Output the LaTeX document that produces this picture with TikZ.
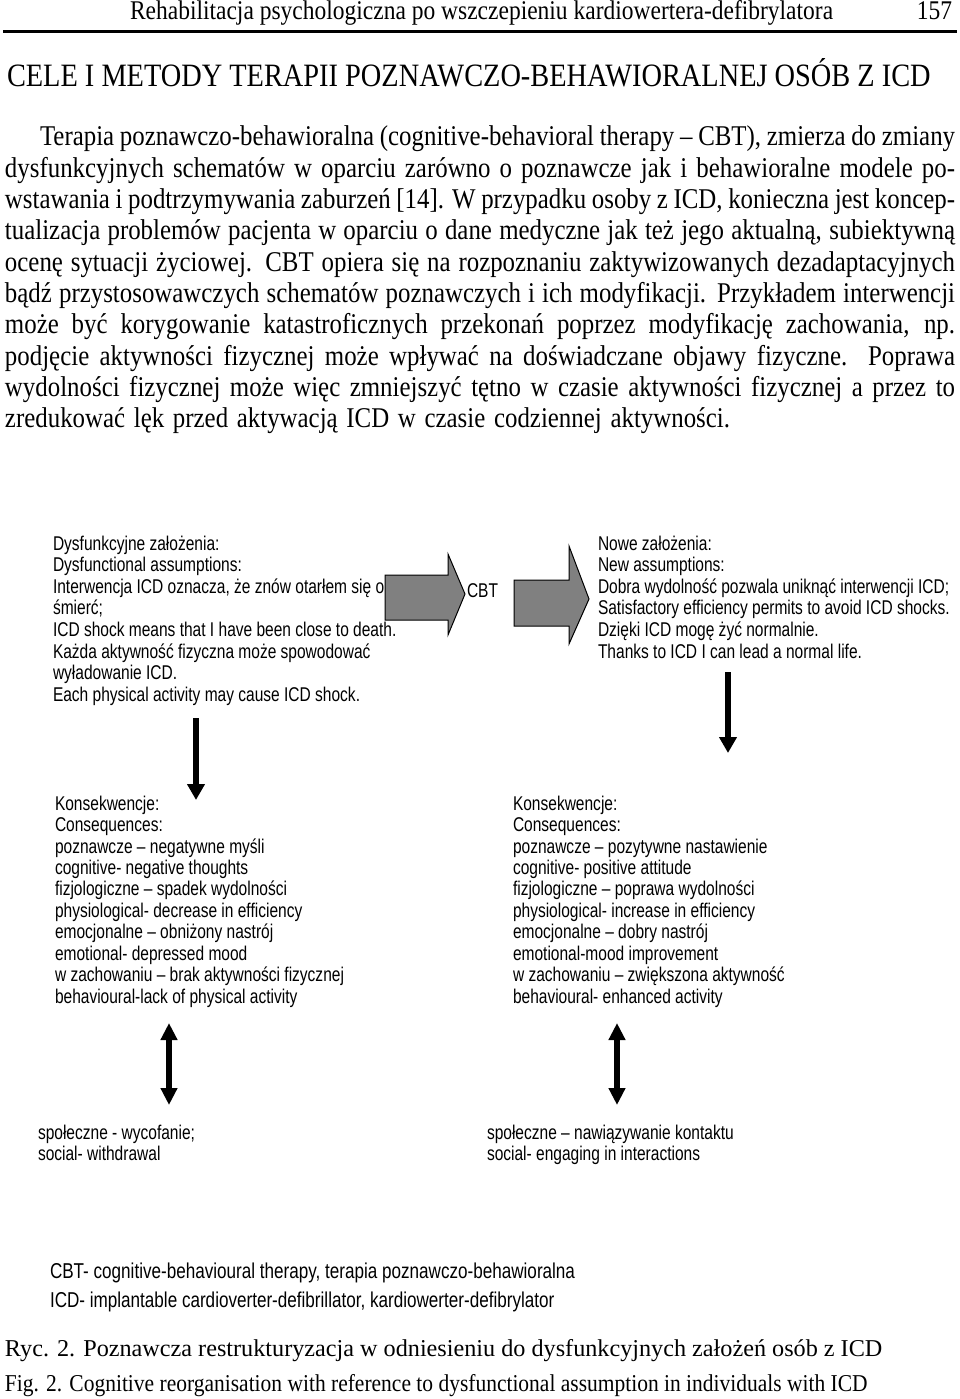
\documentclass[tikz,border=0pt]{standalone}
\usepackage{fontspec}
\setmainfont{Liberation Serif}
\newfontfamily\bodyf{Liberation Serif}[FakeStretch=0.87]
\newfontfamily\diagf{Liberation Sans}[FakeStretch=0.78]
\newfontfamily\legf{Liberation Sans}[FakeStretch=0.795]
\newfontfamily\capf{Liberation Serif}
\newfontfamily\capfb{Liberation Serif}[FakeStretch=0.888]
\usetikzlibrary{arrows.meta}
\newcommand{\jl}[2]{\makebox[#1pt][s]{#2}}
\tikzset{
  tl/.style={inner sep=0pt, outer sep=0pt, anchor=base west},
  bodytext/.style={tl, font=\bodyf\fontsize{28.6}{31}\selectfont},
  headtext/.style={tl, font=\bodyf\fontsize{27}{30}\selectfont},
  titletext/.style={tl, font=\bodyf\fontsize{32.6}{36}\selectfont},
  dg/.style={tl, font=\diagf\fontsize{19.9}{21.6}\selectfont, text=black},
  lg/.style={tl, font=\legf\fontsize{21.5}{24}\selectfont, text=black},
  capt/.style={tl, font=\capf\fontsize{24.2}{28}\selectfont},
  captb/.style={tl, font=\capfb\fontsize{24.2}{28}\selectfont},
  blockarrow/.style={draw=black, line width=1pt, fill=gray, line join=miter},
  thickarrow/.style={line width=5.5pt, -{Triangle[width=17pt,length=16pt]}},
  dblarrow/.style={line width=5.5pt, {Triangle[width=16pt,length=17pt]}-{Triangle[width=16pt,length=17pt]}},
}
\begin{document}
\begin{tikzpicture}[x=1pt,y=-1pt]
\fill[white] (0,0) rectangle (960,1399);
\useasboundingbox (0,0) rectangle (960,1399);

% running head
\node[headtext] (hd) at (130,20) {Rehabilitacja psychologiczna po wszczepieniu kardiowertera-defibrylatora};
\node[headtext, anchor=base east] (pg) at (952,20) {157};
\draw[line width=3pt] (3,32) -- (957,32);

% section title
\node[titletext] (title) at (7,87) {CELE I METODY TERAPII POZNAWCZO-BEHAWIORALNEJ OSÓB Z ICD};

% body paragraph
\node[bodytext] (b1) at (40,146) {\jl{915}{Terapia poznawczo-behawioralna (cognitive-behavioral therapy – CBT), zmierza do zmiany}};
\node[bodytext] (b2) at (5,177.3) {\jl{950}{dysfunkcyjnych schematów w oparciu zarówno o poznawcze jak i behawioralne modele po-}};
\node[bodytext] (b3) at (5,208.6) {\jl{950}{wstawania i podtrzymywania zaburzeń [14]. W przypadku osoby z ICD, konieczna jest koncep-}};
\node[bodytext] (b4) at (5,239.9) {\jl{950}{tualizacja problemów pacjenta w oparciu o dane medyczne jak też jego aktualną, subiektywną}};
\node[bodytext] (b5) at (5,271.2) {\jl{950}{ocenę sytuacji życiowej. CBT opiera się na rozpoznaniu zaktywizowanych dezadaptacyjnych}};
\node[bodytext] (b6) at (5,302.5) {\jl{950}{bądź przystosowawczych schematów poznawczych i ich modyfikacji. Przykładem interwencji}};
\node[bodytext] (b7) at (5,333.8) {\jl{950}{może być korygowanie katastroficznych przekonań poprzez modyfikację zachowania, np.}};
\node[bodytext] (b8) at (5,365.1) {\jl{950}{podjęcie aktywności fizycznej może wpływać na doświadczane objawy fizyczne. Poprawa}};
\node[bodytext] (b9) at (5,396.4) {\jl{950}{wydolności fizycznej może więc zmniejszyć tętno w czasie aktywności fizycznej a przez to}};
\node[bodytext] (b10) at (5,427.7) {\jl{725}{zredukować lęk przed aktywacją ICD w czasie codziennej aktywności.}};

% left block: dysfunctional assumptions
\node[dg] (d1) at (53,550) {Dysfunkcyjne założenia:};
\node[dg] (d2) at (53,571.6) {Dysfunctional assumptions:};
\node[dg] (d3) at (53,593.2) {Interwencja ICD oznacza, że znów otarłem się o};
\node[dg] (d4) at (53,614.8) {śmierć;};
\node[dg] (d5) at (53,636.4) {ICD shock means that I have been close to death.};
\node[dg] (d6) at (53,658) {Każda aktywność fizyczna może spowodować};
\node[dg] (d7) at (53,679.6) {wyładowanie ICD.};
\node[dg] (d8) at (53,701.2) {Each physical activity may cause ICD shock.};

% CBT block arrows
\draw[blockarrow] (385,575) -- (448,575) -- (448,554) -- (465,594) -- (448,635) -- (448,620) -- (385,620) -- cycle;
\node[dg] (cbt) at (467,597) {CBT};
\draw[blockarrow] (514,580) -- (569,580) -- (569,546) -- (589,599) -- (569,644) -- (569,626) -- (514,626) -- cycle;

% right block: new assumptions
\node[dg] (n1) at (598,550) {Nowe założenia:};
\node[dg] (n2) at (598,571.6) {New assumptions:};
\node[dg] (n3) at (598,593.2) {Dobra wydolność pozwala uniknąć interwencji ICD;};
\node[dg] (n4) at (598,614.8) {Satisfactory efficiency permits to avoid ICD shocks.};
\node[dg] (n5) at (598,636.4) {Dzięki ICD mogę żyć normalnie.};
\node[dg] (n6) at (598,658) {Thanks to ICD I can lead a normal life.};

% down arrows
\coordinate (la1) at (196,718);
\coordinate (la2) at (196,800);
\draw[thickarrow] (la1) -- (la2);
\coordinate (ra1) at (728,672);
\coordinate (ra2) at (728,753);
\draw[thickarrow] (ra1) -- (ra2);

% consequences left
\node[dg] (cl1) at (55,810) {Konsekwencje:};
\node[dg] (cl2) at (55,831.5) {Consequences:};
\node[dg] (cl3) at (55,853) {poznawcze – negatywne myśli};
\node[dg] (cl4) at (55,874.4) {cognitive- negative thoughts};
\node[dg] (cl5) at (55,895.8) {fizjologiczne – spadek wydolności};
\node[dg] (cl6) at (55,917.3) {physiological- decrease in efficiency};
\node[dg] (cl7) at (55,938.7) {emocjonalne – obniżony nastrój};
\node[dg] (cl8) at (55,960.2) {emotional- depressed mood};
\node[dg] (cl9) at (55,981.6) {w zachowaniu – brak aktywności fizycznej};
\node[dg] (cl10) at (55,1003) {behavioural-lack of physical activity};

% consequences right
\node[dg] (cr1) at (513,810) {Konsekwencje:};
\node[dg] (cr2) at (513,831.5) {Consequences:};
\node[dg] (cr3) at (513,853) {poznawcze – pozytywne nastawienie};
\node[dg] (cr4) at (513,874.4) {cognitive- positive attitude};
\node[dg] (cr5) at (513,895.8) {fizjologiczne – poprawa wydolności};
\node[dg] (cr6) at (513,917.3) {physiological- increase in efficiency};
\node[dg] (cr7) at (513,938.7) {emocjonalne – dobry nastrój};
\node[dg] (cr8) at (513,960.2) {emotional-mood improvement};
\node[dg] (cr9) at (513,981.6) {w zachowaniu – zwiększona aktywność};
\node[dg] (cr10) at (513,1003) {behavioural- enhanced activity};

% double arrows
\coordinate (ld1) at (169,1023);
\coordinate (ld2) at (169,1105);
\draw[dblarrow] (ld1) -- (ld2);
\coordinate (rd1) at (617,1023);
\coordinate (rd2) at (617,1105);
\draw[dblarrow] (rd1) -- (rd2);

% social
\node[dg] (sl1) at (38,1139) {społeczne - wycofanie;};
\node[dg] (sl2) at (38,1160) {social- withdrawal};
\node[dg] (sr1) at (487,1139) {społeczne – nawiązywanie kontaktu};
\node[dg] (sr2) at (487,1160) {social- engaging in interactions};

% legend
\node[lg] (lg1) at (50,1278) {CBT- cognitive-behavioural therapy, terapia poznawczo-behawioralna};
\node[lg] (lg2) at (50,1307) {ICD- implantable cardioverter-defibrillator, kardiowerter-defibrylator};

% captions
\node[capt] (c1) at (5,1356) {Ryc. 2. Poznawcza restrukturyzacja w odniesieniu do dysfunkcyjnych założeń osób z ICD};
\node[captb] (c2) at (5,1391) {Fig. 2. Cognitive reorganisation with reference to dysfunctional assumption in individuals with ICD};
\end{tikzpicture}
\end{document}
